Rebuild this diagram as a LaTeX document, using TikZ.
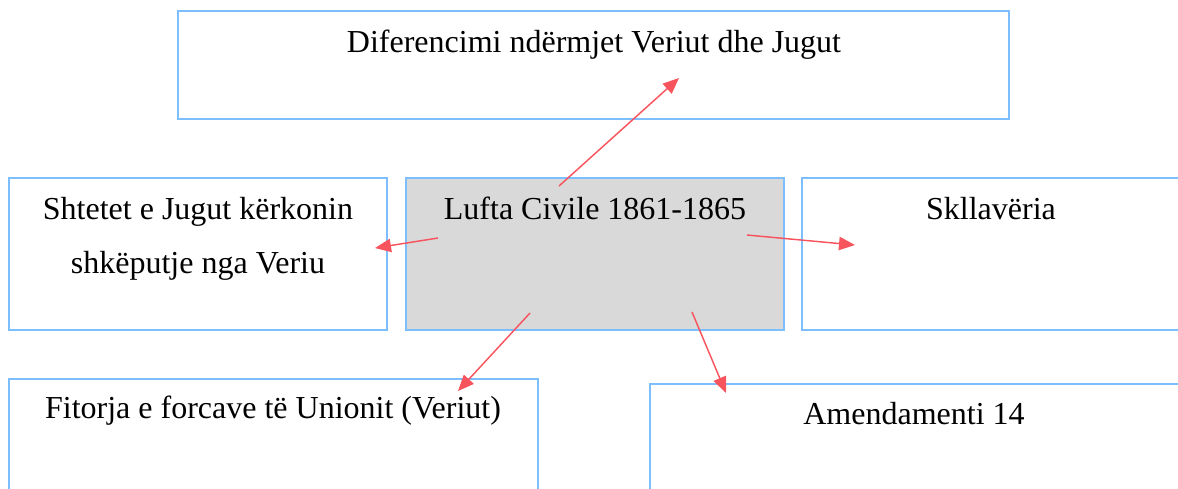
\documentclass[tikz,border=0pt]{standalone}
\usepackage{fontspec}
\setmainfont{Liberation Serif}
\usetikzlibrary{arrows.meta}
\definecolor{boxblue}{RGB}{125,190,255}
\definecolor{arrowred}{RGB}{248,84,94}
\definecolor{boxgray}{RGB}{217,217,217}
\newcommand{\px}{0.375pt}

\begin{document}
\begin{tikzpicture}[x=0.375pt, y=-0.375pt,
		mybox/.style={draw=boxblue, line width=0.75pt, inner sep=0pt},
		mytext/.style={anchor=base, inner sep=0pt, font=\fontsize{12pt}{14pt}\selectfont},
		myarrow/.style={-{Triangle[length=6pt,width=5pt]}, draw=arrowred, line width=0.55pt}
	]
	\useasboundingbox (0,0) rectangle (1178,488);

	\node[mybox, minimum width=831*\px, minimum height=108*\px] (diff) at (593.5,65) {};
	\node[mybox, minimum width=378*\px, minimum height=152*\px] (shtetet) at (198,254) {};
	\node[mybox, fill=boxgray, minimum width=378*\px, minimum height=152*\px] (lufta) at (595,254) {};
	\node[mybox, minimum width=380*\px, minimum height=152*\px] (skll) at (992,254) {};
	\node[mybox, minimum width=529*\px, minimum height=122*\px] (fitorja) at (273.5,440) {};
	\node[mybox, minimum width=540*\px, minimum height=116*\px] (amend) at (920,442) {};

	\node[mytext] (difftext) at (594,52) {Diferencimi ndërmjet Veriut dhe Jugut};
	\node[mytext] (shtetettexta) at (198,219) {Shtetet e Jugut kërkonin};
	\node[mytext] (shtetettextb) at (198,273) {shkëputje nga Veriu};
	\node[mytext] (luftatext) at (595,219) {Lufta Civile 1861-1865};
	\node[mytext] (sklltext) at (991,219) {Skllavëria};
	\node[mytext] (fitorjatext) at (273,418) {Fitorja e forcave të Unionit (Veriut)};
	\node[mytext] (amendtext) at (914,424) {Amendamenti 14};

	\coordinate (l1) at (559,186);
	\coordinate (l2) at (438,238);
	\coordinate (l3) at (747,235);
	\coordinate (l4) at (530,313);
	\coordinate (l5) at (692,312);
	\coordinate (diffin) at (679,78);
	\coordinate (shtetetin) at (375,248);
	\coordinate (skllin) at (855,245);
	\coordinate (fitorjain) at (458,391);
	\coordinate (amendin) at (726,393);

	\draw[myarrow] (l1) -- (diffin);
	\draw[myarrow] (l2) -- (shtetetin);
	\draw[myarrow] (l3) -- (skllin);
	\draw[myarrow] (l4) -- (fitorjain);
	\draw[myarrow] (l5) -- (amendin);

\end{tikzpicture}
\end{document}
